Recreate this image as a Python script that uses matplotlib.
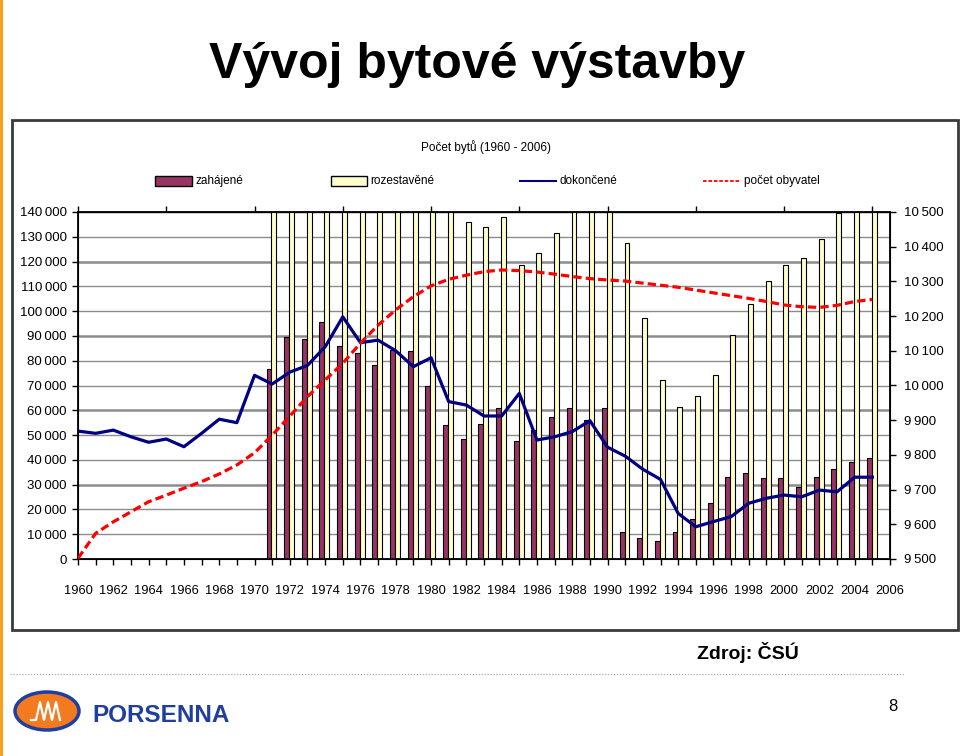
import matplotlib
matplotlib.use("Agg")
import matplotlib.pyplot as plt
import numpy as np
from matplotlib.patches import Rectangle, Ellipse
from matplotlib.lines import Line2D
from matplotlib.ticker import FuncFormatter, MultipleLocator

# Data
roky = list(range(1960, 2006))
roky_sloupce = list(range(1971, 2006))

zahajene = [76500, 89400, 88600, 95700, 86100, 83000, 78100, 84300, 83900, 69800,
            53900, 48300, 54600, 61000, 47700, 52000, 57300, 61000, 56200, 61000,
            10800, 8600, 7100, 10800, 16100, 22600, 33200, 34800, 32700, 32700,
            28900, 33200, 36400, 39100, 40600]

rozestavene = [158000, 170000, 182000, 190000, 196000, 198000, 197000, 194000, 188000, 176000,
               152000, 136100, 134100, 137800, 118500, 123300, 131400, 143000, 148000, 151000,
               127600, 97200, 72100, 61400, 65800, 74300, 90200, 102900, 112300, 118500,
               121300, 129200, 139400, 146000, 152000]

dokoncene = [51600, 50700, 52000, 49300, 47100, 48400, 45300, 50700, 56400, 55000,
             74100, 70600, 75400, 78100, 85600, 97700, 87300, 88300, 84000, 77600,
             81200, 63500, 62100, 57700, 57700, 66800, 48000, 49300, 51400, 55800,
             45100, 41500, 36200, 32100, 18400, 13000, 15100, 17100, 22500, 24500,
             25800, 25100, 27800, 27100, 33000, 33000]

obyvatel = [9502, 9574, 9607, 9636, 9665, 9684, 9704, 9723, 9745, 9771,
            9806, 9857, 9912, 9968, 10016, 10064, 10122, 10174, 10218, 10256,
            10287, 10306, 10318, 10328, 10333, 10331, 10327, 10321, 10314, 10308,
            10304, 10301, 10295, 10289, 10283, 10275, 10267, 10259, 10251, 10242,
            10232, 10227, 10225, 10231, 10242, 10248]

FONT = ["Liberation Sans", "DejaVu Sans"]
W, H = 960, 756


def fx(x):
    return x / W


def fy(y):
    return 1 - y / H


def tisice(v, p):
    # mezera jako oddelovac tisicu
    return f"{int(round(v)):,}".replace(",", "\u2009")


fig = plt.figure(figsize=(9.6, 7.56), dpi=100)
fig.patch.set_facecolor("white")

# oranzovy okraj slidu
fig.add_artist(Rectangle((0, 0), fx(3), 1, transform=fig.transFigure,
                         facecolor="#f4a020", edgecolor="none"))

fig.text(fx(477), fy(78), "Vývoj bytové výstavby", ha="center", va="baseline",
         fontsize=36, fontweight="bold", family=FONT)

# ramecek grafu
fig.add_artist(Rectangle((fx(12), fy(630)), fx(946), 510 / H, transform=fig.transFigure,
                         facecolor="none", edgecolor="#3a3a3a", lw=2))

fig.text(fx(486), fy(151), "Počet bytů (1960 - 2006)", ha="center", va="baseline",
         fontsize=8.5, family=FONT)

ax = fig.add_axes([fx(78), fy(559), 812 / W, 347 / H])
x = np.array(roky_sloupce)
sirka = 0.28
ax.bar(x - 0.18, zahajene, width=sirka, color="#993366", edgecolor="black", lw=0.8, zorder=2)
ax.bar(x + 0.10, rozestavene, width=sirka, color="#ffffcc", edgecolor="black", lw=0.8, zorder=2)
ax.plot(roky, dokoncene, color="#000080", lw=2.3, zorder=3)

ax.set_xlim(1960, 2006)
ax.set_ylim(0, 140000)
ax.yaxis.set_major_locator(MultipleLocator(10000))
ax.yaxis.set_major_formatter(FuncFormatter(tisice))
for v in range(10000, 140001, 10000):
    ax.axhline(v, color="#8c8c8c", lw=1.8 if v % 30000 == 0 else 1.0, zorder=0)

ax.xaxis.set_major_locator(MultipleLocator(2))
ax.xaxis.set_minor_locator(MultipleLocator(1))
ax.tick_params(axis="x", which="both", direction="out", length=4, width=1)
ax.tick_params(axis="x", which="major", pad=15, labelsize=9.3)
ax.tick_params(axis="y", direction="out", length=4, width=1, pad=4, labelsize=9.5)
for lab in ax.get_xticklabels() + ax.get_yticklabels():
    lab.set_family(FONT)
for s in ax.spines.values():
    s.set_linewidth(1.3)
    s.set_color("black")

top = ax.secondary_xaxis("top")
top.xaxis.set_major_locator(MultipleLocator(5))
top.tick_params(direction="out", length=4, width=1, labeltop=False)

ax2 = ax.twinx()
ax2.plot(roky, obyvatel, color="#ff0000", lw=2.3, dashes=(2.6, 1.3), zorder=4)
ax2.set_ylim(9500, 10500)
ax2.yaxis.set_major_locator(MultipleLocator(100))
ax2.yaxis.set_major_formatter(FuncFormatter(tisice))
ax2.tick_params(axis="y", direction="out", length=4, width=1, pad=6, labelsize=9.5)
for lab in ax2.get_yticklabels():
    lab.set_family(FONT)

# legenda
leg_y = 181
fig.add_artist(Rectangle((fx(155), fy(186)), fx(37), 10 / H, transform=fig.transFigure,
                         facecolor="#993366", edgecolor="black", lw=1))
fig.text(fx(195), fy(leg_y), "zahájené", va="center", fontsize=8.5, family=FONT)
fig.add_artist(Rectangle((fx(331), fy(186)), fx(36), 10 / H, transform=fig.transFigure,
                         facecolor="#ffffcc", edgecolor="black", lw=1))
fig.text(fx(370), fy(leg_y), "rozestavěné", va="center", fontsize=8.5, family=FONT)
fig.add_artist(Line2D([fx(520), fx(556)], [fy(leg_y), fy(leg_y)], transform=fig.transFigure,
                      color="#000080", lw=1.5))
fig.text(fx(560), fy(leg_y), "dokončené", va="center", fontsize=8.5, family=FONT)
fig.add_artist(Line2D([fx(703), fx(740)], [fy(leg_y), fy(leg_y)], transform=fig.transFigure,
                      color="#ff0000", lw=1.3, dashes=(2, 1)))
fig.text(fx(744), fy(leg_y), "počet obyvatel", va="center", fontsize=8.5, family=FONT)

# zdroj, oddelovac, logo, cislo strany
fig.text(fx(697), fy(659), "Zdroj: ČSÚ", va="baseline", fontsize=14, fontweight="bold",
         family=FONT)
fig.add_artist(Line2D([fx(10), fx(905)], [fy(674), fy(674)], transform=fig.transFigure,
                      color="#a0a0a0", lw=0.8, ls=":"))
fig.add_artist(Ellipse((fx(47), fy(711)), fx(64), 38 / H, transform=fig.transFigure,
                       facecolor="#f47a20", edgecolor="#1f3f9f", lw=2.5))
fig.add_artist(Line2D([fx(31), fx(36), fx(40), fx(44), fx(48), fx(52), fx(56), fx(60)],
                      [fy(720), fy(720), fy(702), fy(720), fy(702), fy(720), fy(702), fy(720)],
                      transform=fig.transFigure, color="white", lw=1.6))
fig.text(fx(92), fy(722), "PORSENNA", va="baseline", fontsize=17.5, fontweight="bold",
         color="#1f3f9f", family=FONT)
fig.text(fx(893), fy(711), "8", ha="center", va="baseline", fontsize=12, family=FONT)

fig.savefig("out.png", dpi=100)
